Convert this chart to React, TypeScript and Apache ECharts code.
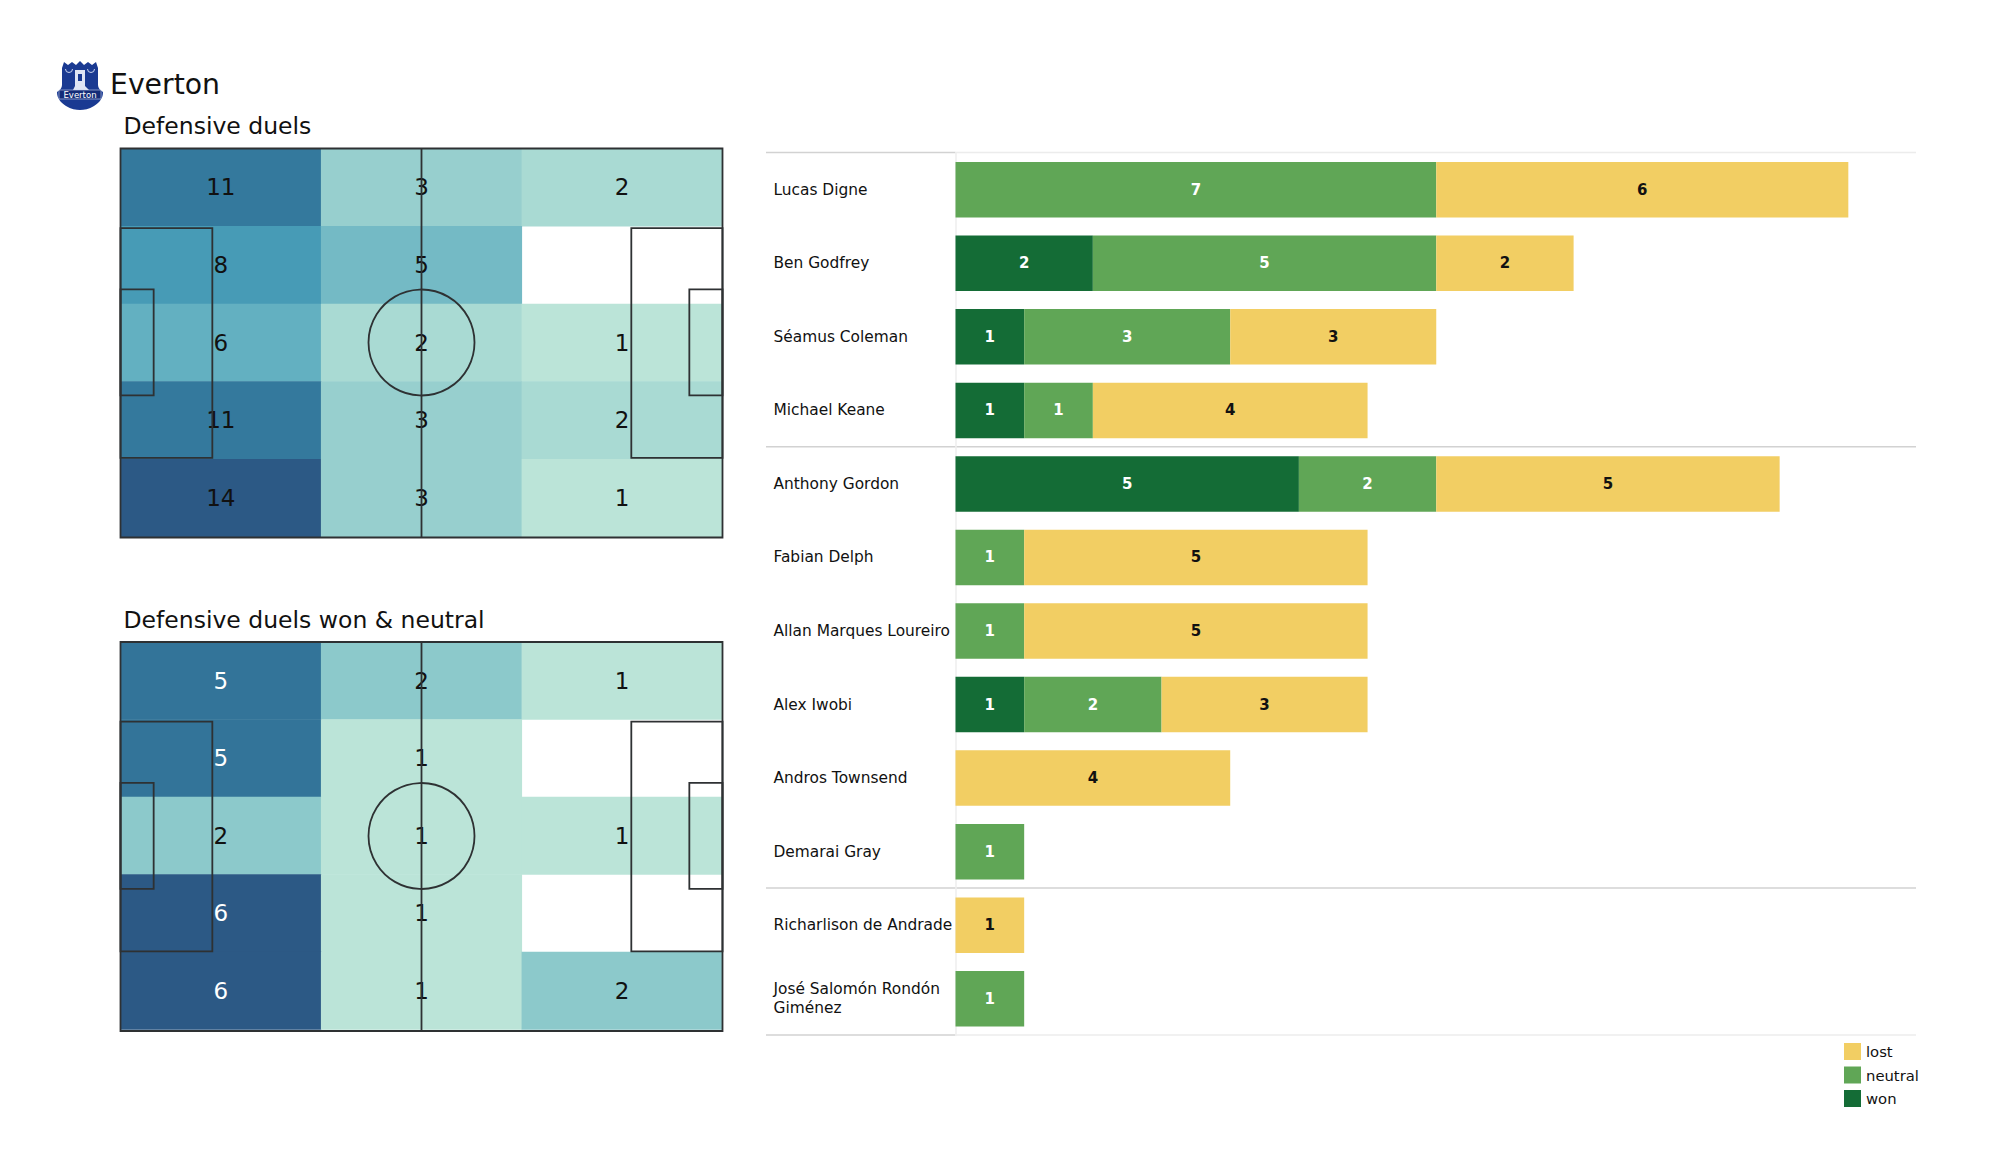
import React, { useEffect, useRef } from "react";
import * as echarts from "echarts";

const FONT = "DejaVu Sans";

const players = [
  "Lucas Digne", "Ben Godfrey", "Séamus Coleman", "Michael Keane", "Anthony Gordon", "Fabian Delph",
  "Allan Marques Loureiro", "Alex Iwobi", "Andros Townsend", "Demarai Gray", "Richarlison de Andrade",
  "José Salomón Rondón\nGiménez",
];
const won = [null, 2, 1, 1, 5, null, null, 1, null, null, null, null];
const neutral = [7, 5, 3, 1, 2, 1, 1, 2, null, 1, null, 1];
const lost = [6, 2, 3, 4, 5, 5, 5, 3, 4, null, 1, null];

const duelsGrid = [
  [11, 3, 2],
  [8, 5, 0],
  [6, 2, 1],
  [11, 3, 2],
  [14, 3, 1],
];
const wonNeutralGrid = [
  [5, 2, 1],
  [5, 1, 0],
  [2, 1, 1],
  [6, 1, 0],
  [6, 1, 2],
];
const columns = ["left", "middle", "right"];
const zones = ["a", "b", "c", "d", "e"];
const heatColors = ["#bbe4d8", "#8cc9cb", "#60aec0", "#3c93b2", "#337499", "#2c5985"];

const PITCH_LEFT = 120.5;
const PITCH_W = 602;
const PITCH_H = 389;
const PITCH_TOPS = [148.5, 642];
const HEAT_HEIGHT = [388.5, 387.5];
const BAR_LEFT = 955.5;
const BAR_RIGHT = 1917;
const LINE_RIGHT = 1916;
const BAR_TOP = 153;
const BAR_H = 882.5;
const LINE_LEFT = 766;

function heatData(rows: number[][], whiteFrom: number) {
  const out: any[] = [];
  rows.forEach((r, y) =>
    r.forEach((v, x) => {
      if (v > 0) out.push({ value: [x, y, v], label: { color: v >= whiteFrom ? "#ffffff" : "#111111" } });
    })
  );
  return out;
}

const shieldPath =
  "M5 7 L7 1 L11 4 L15 1 L19 4 L23 0 L27 4 L31 1 L35 4 L39 1 L41 7 L41 24 C41 27 43 29 46 31 C46 37 43 41 37 45 C32 48 27 49 23 49 C19 49 14 48 9 45 C3 41 0 37 0 31 C3 29 5 27 5 24 Z";
echarts.graphic.registerShape("crest", echarts.graphic.extendPath(shieldPath, {}) as any);

function pitchLines(top: number) {
  const sx = PITCH_W / 472;
  const sy = PITCH_H / 305;
  const line = { stroke: "#2e3133", lineWidth: 1.8, fill: "none" } as any;
  const midX = PITCH_LEFT + PITCH_W / 2;
  const rect = (x: number, y: number, w: number, h: number) => ({
    type: "rect", z: 10, silent: true, shape: { x, y, width: w, height: h }, style: line,
  });
  return [
    rect(PITCH_LEFT, top, PITCH_W, PITCH_H),
    rect(PITCH_LEFT, top + 62.5 * sy, 72 * sx, 180 * sy),
    rect(PITCH_LEFT, top + 110.5 * sy, 26 * sx, 83 * sy),
    rect(PITCH_LEFT + PITCH_W - 71.5 * sx, top + 62.5 * sy, 71.5 * sx, 180 * sy),
    rect(PITCH_LEFT + PITCH_W - 26 * sx, top + 110.5 * sy, 26 * sx, 83 * sy),
    { type: "line", z: 10, silent: true, shape: { x1: midX, y1: top, x2: midX, y2: top + PITCH_H }, style: line },
    { type: "circle", z: 10, silent: true, shape: { cx: midX, cy: top + PITCH_H / 2 - 0.5, r: 53 }, style: line },
  ];
}

function separators() {
  const rowH = BAR_H / players.length;
  const rows = [
    { row: 0, left: "#d2d2d2", right: "#ececec" },
    { row: 4, left: "#d2d2d2", right: "#d2d2d2" },
    { row: 10, left: "#d2d2d2", right: "#d2d2d2" },
    { row: 12, left: "#d2d2d2", right: "#ececec" },
  ];
  const out: any[] = [];
  rows.forEach(({ row, left, right }) => {
    const y = BAR_TOP - 0.5 + row * rowH;
    out.push({ type: "line", silent: true, shape: { x1: LINE_LEFT, y1: y, x2: BAR_LEFT, y2: y }, style: { stroke: left, lineWidth: 1.5 } });
    out.push({ type: "line", silent: true, shape: { x1: BAR_LEFT, y1: y, x2: LINE_RIGHT, y2: y }, style: { stroke: right, lineWidth: 1.5 } });
  });
  return out;
}

function crest() {
  const arch = (x: number) => ({
    type: "arc", silent: true, shape: { cx: x, cy: 69, r: 3.5, startAngle: 0, endAngle: Math.PI },
    style: { stroke: "#c9d3ee", lineWidth: 1, fill: "none" },
  });
  return [
    { type: "crest", x: 57, y: 61, silent: true, style: { fill: "#1a3a92" } },
    arch(69), arch(91),
    { type: "polygon", silent: true, shape: { points: [[75, 70], [85, 70], [85, 86], [89, 90], [73, 90], [75, 86]] }, style: { fill: "#dfe5f4" } },
    { type: "rect", silent: true, shape: { x: 78, y: 74, width: 4, height: 7 }, style: { fill: "#1a3a92" } },
    { type: "rect", silent: true, shape: { x: 59, y: 90, width: 42, height: 9 }, style: { fill: "#142c78", stroke: "#c9d3ee", lineWidth: 0.6 } },
    { type: "text", silent: true, x: 80, y: 94.5, style: { text: "Everton", fill: "#ffffff", font: `8.5px ${FONT}`, align: "center", verticalAlign: "middle" } },
  ];
}

function titleText(text: string, x: number, y: number, size: number) {
  return { type: "text", silent: true, x, y, style: { text, fill: "#111111", font: `${size}px ${FONT}`, align: "left", verticalAlign: "middle" } };
}

function heatSeries(rows: number[][], whiteFrom: number, idx: number) {
  return {
    type: "heatmap",
    xAxisIndex: idx,
    yAxisIndex: idx,
    data: heatData(rows, whiteFrom),
    label: { show: true, fontFamily: FONT, fontSize: 23, formatter: (p: any) => String(p.value[2]) },
    itemStyle: { borderWidth: 0 },
    emphasis: { disabled: true },
  };
}

function barSeries(name: string, data: (number | null)[], color: string, labelColor: string) {
  return {
    name,
    type: "bar",
    stack: "duels",
    xAxisIndex: 2,
    yAxisIndex: 2,
    data,
    barCategoryGap: "24.5%",
    itemStyle: { color },
    label: { show: true, position: "inside", color: labelColor, fontFamily: FONT, fontWeight: "bold", fontSize: 15 },
    emphasis: { disabled: true },
  };
}

const hiddenCat = (data: string[], gridIndex: number, inverse = false) => ({
  type: "category" as const, gridIndex, data, inverse,
  axisLine: { show: false }, axisTick: { show: false }, axisLabel: { show: false }, splitLine: { show: false }, splitArea: { show: false },
});

export default function App() {
  const ref = useRef<HTMLDivElement>(null);
  useEffect(() => {
    document.body.style.margin = "0";
    const chart = echarts.init(ref.current!, null, { renderer: "svg" });
    chart.setOption({
      animation: false,
      backgroundColor: "#ffffff",
      textStyle: { fontFamily: FONT },
      grid: [
        { left: PITCH_LEFT, top: PITCH_TOPS[0], width: PITCH_W, height: HEAT_HEIGHT[0] },
        { left: PITCH_LEFT, top: PITCH_TOPS[1], width: PITCH_W, height: HEAT_HEIGHT[1] },
        { left: BAR_LEFT, top: BAR_TOP, width: BAR_RIGHT - BAR_LEFT, height: BAR_H },
      ],
      xAxis: [
        hiddenCat(columns, 0),
        hiddenCat(columns, 1),
        { type: "value", gridIndex: 2, min: 0, max: 14, axisLine: { show: false }, axisTick: { show: false }, axisLabel: { show: false }, splitLine: { show: false } },
      ],
      yAxis: [
        hiddenCat(zones, 0, true),
        hiddenCat(zones, 1, true),
        {
          type: "category", gridIndex: 2, data: players, inverse: true,
          axisLine: { show: true, lineStyle: { color: "#eeeeee", width: 1.5 } },
          axisTick: { show: false },
          splitLine: { show: false },
          axisLabel: { align: "left", margin: 182, color: "#111111", fontFamily: FONT, fontSize: 15.4, lineHeight: 19, interval: 0 },
        },
      ],
      visualMap: [
        { show: false, type: "continuous", seriesIndex: 0, dimension: 2, min: 1, max: 14, inRange: { color: heatColors } },
        { show: false, type: "continuous", seriesIndex: 1, dimension: 2, min: 1, max: 6, inRange: { color: heatColors } },
      ],
      legend: {
        show: true,
        data: [
          { name: "lost", icon: "rect" },
          { name: "neutral", icon: "rect" },
          { name: "won", icon: "rect" },
        ],
        orient: "vertical",
        left: 1844,
        top: 1043,
        itemWidth: 17,
        itemHeight: 17,
        itemGap: 6.5,
        selectedMode: false,
        padding: 0,
        textStyle: { fontFamily: FONT, fontSize: 14.8, color: "#111111" },
      },
      series: [
        heatSeries(duelsGrid, 99, 0),
        heatSeries(wonNeutralGrid, 5, 1),
        barSeries("won", won, "#146c36", "#ffffff"),
        barSeries("neutral", neutral, "#60a656", "#ffffff"),
        barSeries("lost", lost, "#f2ce63", "#111111"),
      ],
      graphic: {
        elements: [
          ...separators(),
          ...crest(),
          titleText("Everton", 110, 84, 28.3),
          titleText("Defensive duels", 123.5, 125.5, 23.5),
          titleText("Defensive duels won & neutral", 123.5, 619.5, 23.5),
          ...pitchLines(PITCH_TOPS[0]),
          ...pitchLines(PITCH_TOPS[1]),
        ],
      },
    });
    return () => chart.dispose();
  }, []);
  return <div ref={ref} style={{ position: "absolute", left: 0, top: 0, width: 2000, height: 1175 }} />;
}
